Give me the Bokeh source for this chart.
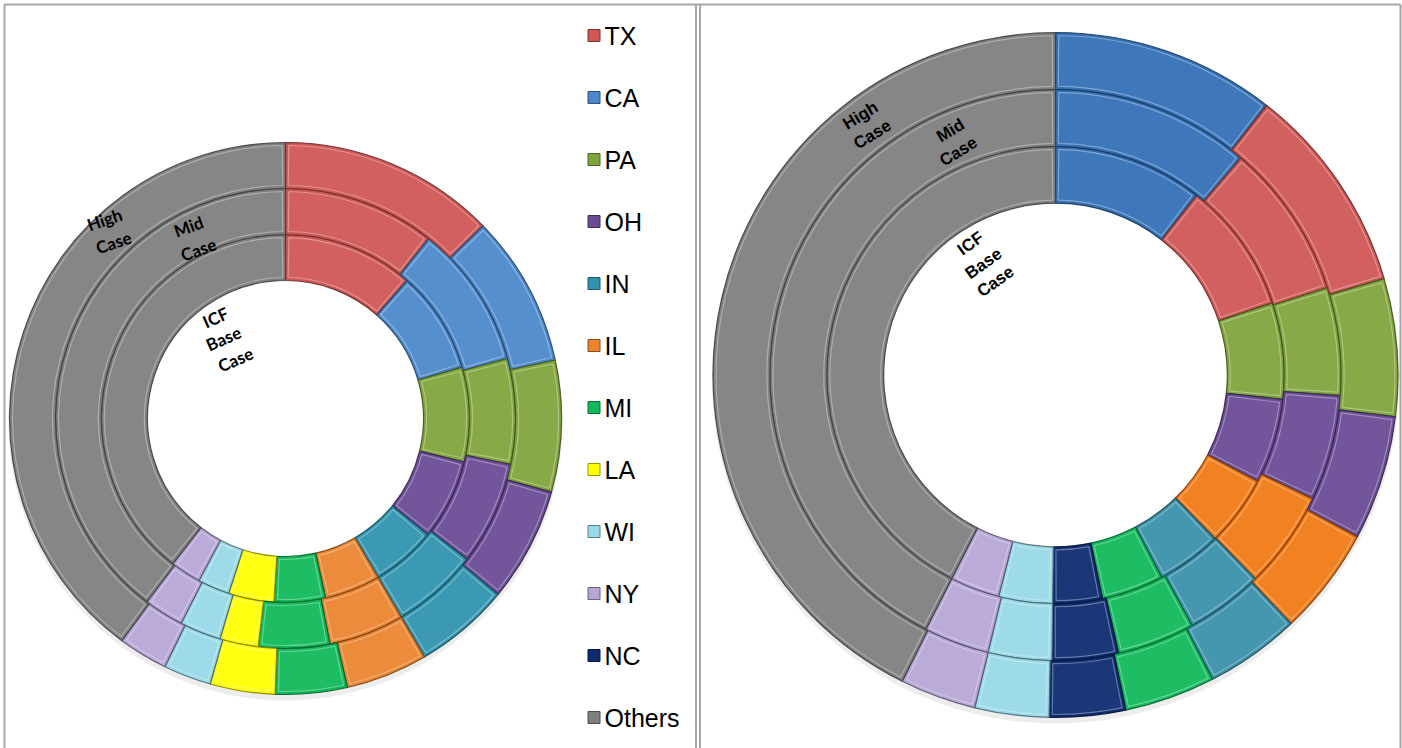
import numpy as np
from bokeh.plotting import figure
from bokeh.models import Range1d, ColumnDataSource
from bokeh.core.properties import value
from bokeh.embed import file_html
from bokeh.resources import INLINE

# ---------------- data ----------------
left_states = ["TX", "CA", "PA", "OH", "IN", "IL", "MI", "LA", "WI", "NY", "Others"]
left_base = [11.5, 9.0, 8.3, 7.1, 5.7, 4.9, 4.5, 4.0, 2.8, 2.7, 39.5]
left_mid = [10.7, 10.1, 7.4, 7.3, 6.1, 5.3, 5.0, 2.7, 2.9, 2.8, 39.7]
left_high = [12.7, 8.9, 7.7, 6.7, 5.6, 4.8, 4.2, 3.8, 2.8, 2.9, 39.9]

right_states = ["CA", "TX", "PA", "OH", "IL", "IN", "MI", "NC", "WI", "NY", "Others"]
right_base = [10.6, 9.3, 6.8, 6.0, 5.0, 4.6, 4.4, 3.5, 3.8, 3.5, 42.5]
right_mid = [11.25, 8.8, 6.1, 6.0, 5.5, 4.4, 4.4, 3.75, 3.6, 3.7, 42.5]
right_high = [10.6, 9.9, 6.5, 5.9, 5.1, 4.5, 4.3, 3.6, 3.5, 3.6, 42.7]

legend_labels = ["TX", "CA", "PA", "OH", "IN", "IL", "MI", "LA", "WI", "NY", "NC", "Others"]
ring_names = [["ICF", "Base", "Case"], ["Mid", "Case"], ["High", "Case"]]

colors = {
    "TX": "#CF5755", "CA": "#4B88CA", "PA": "#80A43C", "OH": "#6A4B95",
    "IN": "#2F93AF", "IL": "#EA842F", "MI": "#10B95B", "LA": "#FFFF00",
    "WI": "#98D9E7", "NY": "#B6A6D6", "NC": "#0E2B70", "Others": "#7F7F7F",
}
right_colors = dict(colors, CA="#3470B6", IL="#F27A14", IN="#3A90AA")

# ---------------- figure ----------------
W, H = 1402, 748
p = figure(width=W, height=H, x_range=Range1d(0, W), y_range=Range1d(748 - H, 748),
           output_backend="svg", toolbar_location=None, min_border=0,
           x_axis_location=None, y_axis_location=None)
p.grid.visible = False
p.outline_line_color = None
p.background_fill_color = "white"
p.border_fill_color = "white"


def Y(sy):
    return 748 - sy


def darken(hexc, k=0.6):
    h = hexc.lstrip("#")
    r, g, b = (int(h[i:i + 2], 16) for i in (0, 2, 4))
    return "#%02x%02x%02x" % (int(r * k), int(g * k), int(b * k))


def ring(cx, cy, r0, r1, vals, names, cmap):
    v = np.array(vals, float)
    f = v / v.sum()
    ends = np.cumsum(f) * 2 * np.pi
    starts = ends - f * 2 * np.pi
    cols = [cmap[n] for n in names]
    src = ColumnDataSource(dict(start=np.pi / 2 - ends, end=np.pi / 2 - starts,
                                color=cols, line=[darken(c, 0.5) for c in cols]))
    p.annular_wedge(x=cx, y=Y(cy), inner_radius=r0, outer_radius=r1,
                    start_angle="start", end_angle="end", fill_color="color",
                    line_color="line", line_width=1.2, line_alpha=0.9, source=src)
    ins = 3.0
    rm = (r0 + r1) / 2
    d = ins / rm
    src2 = ColumnDataSource(dict(start=np.pi / 2 - ends + d, end=np.pi / 2 - starts - d))
    p.annular_wedge(x=cx, y=Y(cy), inner_radius=r0 + ins, outer_radius=r1 - ins,
                    start_angle="start", end_angle="end", fill_color="white", fill_alpha=0.06,
                    line_color="white", line_width=1.2, line_alpha=0.35, source=src2)


def donut(cx, cy, r_hole, r_out, series, names, cmap):
    p.annulus(x=cx, y=Y(cy) - 5, inner_radius=r_hole + 8, outer_radius=r_out + 1,
              fill_color="#9a9a9a", fill_alpha=0.18, line_color=None)
    t = (r_out - r_hole) / 3.0
    for i, vals in enumerate(series):
        ring(cx, cy, r_hole + i * t, r_hole + (i + 1) * t, vals, names, cmap)


# left donut
donut(285, 418, 138, 276, [left_base, left_mid, left_high], left_states, colors)
# right donut
donut(1055, 374.5, 171.8, 342.5, [right_base, right_mid, right_high], right_states, right_colors)

# ring name labels (left chart)
lpos = [[(215, 317), (223, 338), (235, 359)], [(188, 226), (198, 249)], [(104, 219), (113, 242)]]
langle = [0.42, 0.35, 0.33]
for words, pos, ang in zip(ring_names, lpos, langle):
    p.text(x=[q[0] for q in pos], y=[Y(q[1]) for q in pos], text=words, angle=ang,
           text_font=value("Lato"), text_font_style="bold", text_font_size="17px",
           text_color="black", text_align="center", text_baseline="middle")

# ring name labels (right chart)
rpos = [[(970, 243), (983, 263), (995, 281)], [(950, 130), (958, 151)], [(860, 115), (872, 134)]]
rangle = [0.62, 0.55, 0.55]
for words, pos, ang in zip(ring_names, rpos, rangle):
    p.text(x=[q[0] for q in pos], y=[Y(q[1]) for q in pos], text=words, angle=ang,
           text_font=value("Liberation Sans"), text_font_style="bold", text_font_size="17px",
           text_color="black", text_align="center", text_baseline="middle")

# legend
ly = [Y(35 + 62 * i) for i in range(len(legend_labels))]
lc = [colors[n] for n in legend_labels]
p.rect(x=593.5, y=ly, width=12, height=12, fill_color=lc,
       line_color=[darken(c, 0.6) for c in lc], line_width=1)
p.text(x=604, y=ly, text=legend_labels, text_font=value("Liberation Sans"),
       text_font_size="25px", text_color="black", text_align="left", text_baseline="middle")

# panel borders
p.segment(x0=[4, 695.5, 699.5, 4, 1400], y0=[Y(4), Y(4), Y(4), Y(4), Y(4)],
          x1=[4, 695.5, 699.5, 1400, 1400], y1=[Y(748), Y(748), Y(748), Y(4), Y(748)],
          line_color="#a6a6a6", line_width=2)

open("out.html", "w").write(file_html(p, INLINE))
